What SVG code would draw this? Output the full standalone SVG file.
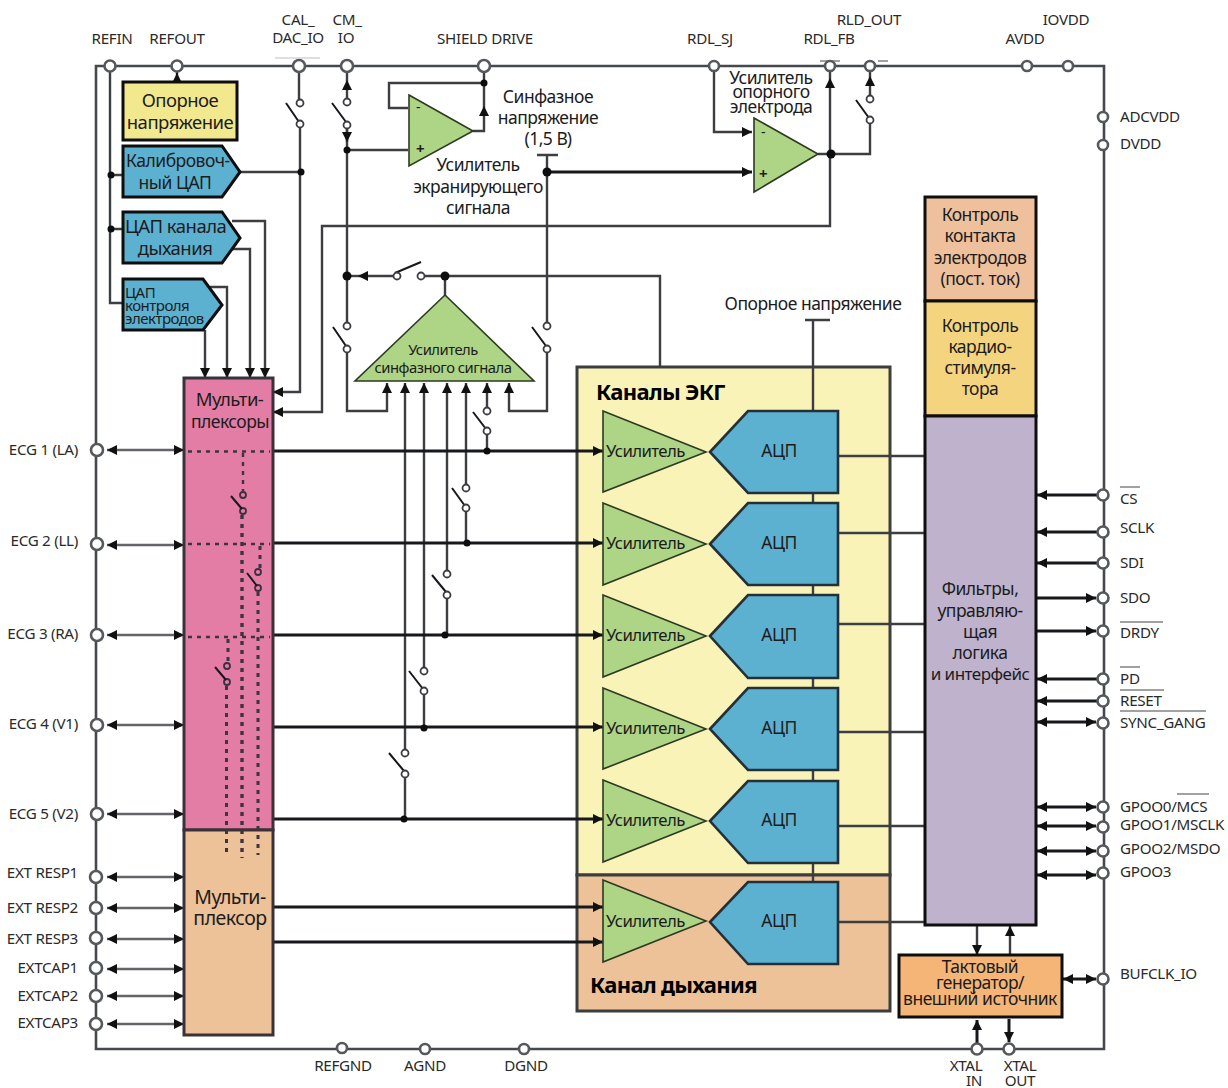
<svg xmlns="http://www.w3.org/2000/svg" width="1228" height="1088" viewBox="0 0 1228 1088">
<style>
text{font-family:"Noto Sans","Liberation Sans",sans-serif;font-size:17.5px;fill:#1c1c1c;letter-spacing:-.5px}
.m{text-anchor:middle}
.p{font-size:15.200px;fill:#2a2a2a;letter-spacing:-.3px}
.e{text-anchor:end}
.b{font-weight:700;font-size:22px;fill:#000;letter-spacing:-.7px}
.ua{font-size:16.800px;letter-spacing:-.6px}
.big{font-size:18.500px}
.bus{fill:none;stroke:#45484d;stroke-width:2.6}
.s{fill:none;stroke:#17181b;stroke-width:3}
.g{fill:none;stroke:#3c3e42;stroke-width:2.4}
.lf{fill:none;stroke:#626467;stroke-width:2.6}
.t{fill:none;stroke:#444;stroke-width:1.2}
.d{fill:none;stroke:#3e3340;stroke-width:3;stroke-dasharray:4 5}
.pin{fill:#fff;stroke:#55585c;stroke-width:2.6}
.o{fill:#fff;stroke:#3a3c40;stroke-width:1.8}
.o2{fill:none;stroke:#3a3040;stroke-width:1.8}
.dot{fill:#0d0d0d}
.amp{fill:#aed486;stroke:#2c3a22;stroke-width:1.6}
.dac{fill:#5cb1d1;stroke:#0e0e0e;stroke-width:3}
.adc{fill:#5cb1d1;stroke:#23303a;stroke-width:2.6}
.blk{stroke:#0e0e0e;stroke-width:3}
</style>
<defs>
<marker id="a" viewBox="0 0 10 10" refX="10" refY="5" markerUnits="userSpaceOnUse" markerWidth="11" markerHeight="10" orient="auto-start-reverse"><path d="M0 0L10 5L0 10Z" fill="#111"/></marker>
</defs>
<g id="ecg-channels"><rect x="577" y="367" width="313" height="508" fill="#faf3b8" stroke="#3c3d3f" stroke-width="3"/><text class="b" x="596" y="400">Каналы ЭКГ</text></g>
<g id="resp-channel"><rect x="577" y="875" width="313" height="136" fill="#edc298" stroke="#3c3d3f" stroke-width="3"/><text class="b" x="590" y="993">Канал дыхания</text></g>
<g id="connectors">
<path class="bus" d="M96 1049V66H1104V1049Z"/>
<path class="g" d="M110 66V303H123M111 175H123M111 229H123"/>
<path class="g" d="M177 66V82"/><path class="s" style="stroke-width:2" d="M177 82V73" marker-end="url(#a)"/>
<path class="g" d="M299 66V103M300 126V392H273" marker-end="url(#a)"/>
<path class="g" d="M240 172H301"/>
<path class="g" d="M830 90V226H322V412H273" marker-end="url(#a)"/>
<path class="g" d="M830 90V78" marker-end="url(#a)"/><path class="g" d="M830 78V66"/>
<path class="g" d="M232 221H265V378" marker-end="url(#a)"/>
<path class="g" d="M232 249H250V378" marker-end="url(#a)"/>
<path class="g" d="M210 287H227V378" marker-end="url(#a)"/>
<path class="g" d="M205 330V378" marker-end="url(#a)"/>
<path class="g" d="M347 102V80" marker-end="url(#a)"/><path class="g" d="M347 80V66"/>
<path class="g" d="M347 128V150"/><path class="g" d="M347 128V142" marker-end="url(#a)"/>
<path class="g" d="M347 150V325"/>
<path class="g" d="M347 351V411H387V383" marker-end="url(#a)"/>
<path class="g" d="M347 150H408"/>
<path class="g" d="M473 131H484V106" marker-end="url(#a)"/><path class="g" d="M484 106V66M484 83H389V108H408"/>
<path class="g" d="M537 155H558M547 155V326"/>
<path class="s" d="M547 172H752" marker-end="url(#a)"/>
<path class="g" d="M547 351V411H509V383" marker-end="url(#a)"/>
<path class="g" d="M714 66V132H752" marker-end="url(#a)"/>
<path class="g" d="M818 154H870V123"/>
<path class="g" d="M870 98V76" marker-end="url(#a)"/><path class="g" d="M870 76V66"/>
<path class="g" d="M397 276H358" marker-end="url(#a)"/><path class="g" d="M358 276H347"/>
<path class="g" d="M421 276H660V366M445 276V296"/>
<path class="g" d="M405 753V383" marker-end="url(#a)"/><path class="g" d="M405 776V819"/>
<path class="g" d="M424 671V383" marker-end="url(#a)"/><path class="g" d="M424 693V728"/>
<path class="g" d="M447 574V383" marker-end="url(#a)"/><path class="g" d="M447 597V635"/>
<path class="g" d="M466 488V383" marker-end="url(#a)"/><path class="g" d="M466 510V543"/>
<path class="g" d="M487 411V383" marker-end="url(#a)"/><path class="g" d="M487 433V451"/>
<path class="s" d="M273 451H603" marker-end="url(#a)"/>
<path class="s" d="M273 543H603" marker-end="url(#a)"/>
<path class="s" d="M273 635H603" marker-end="url(#a)"/>
<path class="s" d="M273 727H603" marker-end="url(#a)"/>
<path class="s" d="M273 819H603" marker-end="url(#a)"/>
<path class="s" d="M273 907H603" marker-end="url(#a)"/>
<path class="s" d="M273 942H603" marker-end="url(#a)"/>
<path class="g" d="M805 320H830M813 320V882"/>
<path class="g" d="M838 456H925M838 533H925M838 624H925M838 732H925M838 826H925M838 922H925"/>
<g class="left">
<path class="lf" d="M107 450H184" marker-start="url(#a)" marker-end="url(#a)"/>
<path class="lf" d="M107 545H184" marker-start="url(#a)" marker-end="url(#a)"/>
<path class="lf" d="M107 635H184" marker-start="url(#a)" marker-end="url(#a)"/>
<path class="lf" d="M107 725H184" marker-start="url(#a)" marker-end="url(#a)"/>
<path class="lf" d="M107 814H184" marker-start="url(#a)" marker-end="url(#a)"/>
<path class="lf" d="M107 877H184" marker-start="url(#a)" marker-end="url(#a)"/>
<path class="lf" d="M107 908H184" marker-start="url(#a)" marker-end="url(#a)"/>
<path class="lf" d="M107 939H184" marker-start="url(#a)" marker-end="url(#a)"/>
<path class="lf" d="M107 969H184" marker-start="url(#a)" marker-end="url(#a)"/>
<path class="lf" d="M107 996H184" marker-start="url(#a)" marker-end="url(#a)"/>
<path class="lf" d="M107 1024H184" marker-start="url(#a)" marker-end="url(#a)"/>
</g>
<g class="right">
<path class="s" d="M1103 495H1037" marker-end="url(#a)"/>
<path class="s" d="M1103 532H1037" marker-end="url(#a)"/>
<path class="s" d="M1103 563H1037" marker-end="url(#a)"/>
<path class="s" d="M1037 598H1096" marker-end="url(#a)"/>
<path class="s" d="M1037 631H1096" marker-end="url(#a)"/>
<path class="s" d="M1103 679H1037" marker-end="url(#a)"/>
<path class="s" d="M1103 701H1037" marker-end="url(#a)"/>
<path class="s" d="M1037 722H1096" marker-start="url(#a)" marker-end="url(#a)"/>
<path class="s" d="M1037 807H1096" marker-start="url(#a)" marker-end="url(#a)"/>
<path class="s" d="M1037 826H1096" marker-start="url(#a)" marker-end="url(#a)"/>
<path class="s" d="M1037 851H1096" marker-start="url(#a)" marker-end="url(#a)"/>
<path class="s" d="M1037 875H1096" marker-start="url(#a)" marker-end="url(#a)"/>
<path class="s" d="M1063 979H1096" marker-start="url(#a)" marker-end="url(#a)"/>
</g>
<path class="g" d="M977 925V955" marker-end="url(#a)"/>
<path class="g" d="M1010 955V926" marker-end="url(#a)"/>
<path class="s" d="M977 1049V1020" marker-end="url(#a)"/>
<path class="s" d="M1009 1019V1042" marker-end="url(#a)"/>
<g class="switches">
<path class="s" style="stroke-width:2" d="M286 103L299 122M332 103L346 122M333 327L346 346M532 327L546 346M856 100L869 118M473 412L486 429M452 488L465 506M432 575L446 592M409 671L423 689M389 753L404 771M395 273L421 262"/>
</g>
<g class="ticks"><path class="t" style="opacity:.35" d="M275 58H320"/><path class="t" d="M820 61H840M878 61H888"/></g>
</g>
<g id="vref"><rect x="123" y="82" width="114" height="58" fill="#f2e88e" class="blk"/><text class="m big" x="180" y="107">Опорное</text><text class="m big" x="180" y="129">напряжение</text></g>
<g id="cal-dac"><path class="dac" d="M123 146H222L240 172L222 197H123Z"/><text x="126" y="167">Калибровоч-</text><text class="m" x="175" y="189">ный ЦАП</text></g>
<g id="resp-dac"><path class="dac" d="M123 212H222L240 238L222 263H123Z"/><text x="125" y="233" class="big">ЦАП канала</text><text class="m big" x="175" y="255">дыхания</text></g>
<g id="lead-dac"><path class="dac" d="M123 279H203L222 305L203 330H123Z"/><text x="125" y="298" style="font-size:15px">ЦАП</text><text x="125" y="311" style="font-size:15px">контроля</text><text x="125" y="324" style="font-size:15px">электродов</text></g>
<g id="mux-ecg"><rect x="184" y="378" width="89" height="452" fill="#e37da6" stroke="#3a3238" stroke-width="3"/><text class="m big" x="229.500" y="406">Мульти-</text><text class="m" x="230" y="428">плексоры</text></g>
<g id="mux-resp"><rect x="184" y="830" width="89" height="205" fill="#edc298" stroke="#3a3238" stroke-width="3"/><text class="m" style="font-size:19.500px" x="230" y="904">Мульти-</text><text class="m" style="font-size:19.500px" x="230" y="925">плексор</text></g>
<g id="mux-paths">
<path class="d" d="M188 451.500H270M188 544H270M188 637H270" style="stroke-width:2.400"/>
<path class="d" d="M243 453V491" style="stroke-width:2.400"/><path class="d" d="M242 515V858" style="stroke-width:3.400"/><path class="d" d="M260 546V569M258 592V855M228 639V663M226.500 686V857"/>
<circle class="o2" cx="243" cy="495" r="3"/><circle class="o2" cx="243" cy="511" r="3"/><circle class="o2" cx="258" cy="572" r="3"/><circle class="o2" cx="258" cy="588" r="3"/><circle class="o2" cx="227" cy="666" r="3"/><circle class="o2" cx="227" cy="682" r="3"/>
<path class="s" style="stroke-width:2" d="M231 496L242 509M247 573L257 586M215 667L226 680"/>
</g>
<g id="shield-amp"><path class="amp" d="M409 95L473 131L409 166Z"/><text class="m" x="418" y="112" style="font-size:14px">-</text><text class="m" x="420" y="154" style="font-size:15px;font-weight:700">+</text><text class="m" x="478" y="171">Усилитель</text><text class="m" x="478" y="193">экранирующего</text><text class="m" x="478" y="214">сигнала</text></g>
<g id="rld-amp"><path class="amp" d="M754 118L818 154L754 192Z"/><text class="m" x="763" y="137" style="font-size:14px">-</text><text class="m" x="763" y="179" style="font-size:15px;font-weight:700">+</text><text class="m" x="771" y="84">Усилитель</text><text class="m" x="771" y="98">опорного</text><text class="m" x="771" y="113">электрода</text></g>
<g id="cm-amp"><path class="amp" d="M445 295L534 381H355Z"/><text class="m" x="443" y="355" style="font-size:14.800px">Усилитель</text><text class="m" x="443" y="373" style="font-size:14.800px">синфазного сигнала</text></g>
<g id="labels-misc"><text class="m" x="548" y="103">Синфазное</text><text class="m" x="548" y="124">напряжение</text><text class="m" x="548" y="145">(1,5 В)</text><text class="m" x="813" y="310">Опорное напряжение</text></g>
<g id="amp1"><path class="amp" d="M603 411L706 452L603 492Z"/><text class="ua" x="606" y="457">Усилитель</text></g>
<g id="amp2"><path class="amp" d="M603 503L706 544L603 585Z"/><text class="ua" x="606" y="549">Усилитель</text></g>
<g id="amp3"><path class="amp" d="M603 595L706 636L603 677Z"/><text class="ua" x="606" y="641">Усилитель</text></g>
<g id="amp4"><path class="amp" d="M603 688L706 729L603 769Z"/><text class="ua" x="606" y="734">Усилитель</text></g>
<g id="amp5"><path class="amp" d="M603 780L706 821L603 862Z"/><text class="ua" x="606" y="826">Усилитель</text></g>
<g id="amp6"><path class="amp" d="M603 880L706 921L603 962Z"/><text class="ua" x="606" y="927">Усилитель</text></g>
<g id="adc1"><path class="adc" d="M710 452L748 411H838V493H748Z"/><text class="m" x="779" y="457">АЦП</text></g>
<g id="adc2"><path class="adc" d="M710 544L748 503H838V585H748Z"/><text class="m" x="779" y="549">АЦП</text></g>
<g id="adc3"><path class="adc" d="M710 636L748 595H838V678H748Z"/><text class="m" x="779" y="641">АЦП</text></g>
<g id="adc4"><path class="adc" d="M710 729L748 688H838V770H748Z"/><text class="m" x="779" y="734">АЦП</text></g>
<g id="adc5"><path class="adc" d="M710 821L748 781H838V863H748Z"/><text class="m" x="779" y="826">АЦП</text></g>
<g id="adc6"><path class="adc" d="M710 922L748 882H838V964H748Z"/><text class="m" x="779" y="927">АЦП</text></g>
<g id="dc-leadoff"><rect x="925" y="197" width="111" height="104" fill="#efc09c" class="blk"/><text class="m" x="980" y="221">Контроль</text><text class="m" x="980" y="242">контакта</text><text class="m" x="980" y="264">электродов</text><text class="m" x="980" y="285">(пост. ток)</text></g>
<g id="pace"><rect x="925" y="301" width="111" height="115" fill="#f5d47f" class="blk"/><text class="m" x="980" y="332">Контроль</text><text class="m" x="980" y="353">кардио-</text><text class="m" x="980" y="374">стимуля-</text><text class="m" x="980" y="395">тора</text></g>
<g id="logic"><rect x="925" y="416" width="111" height="509" fill="#bfb2cc" class="blk"/><text class="m" x="980" y="595">Фильтры,</text><text class="m" x="980" y="617">управляю-</text><text class="m" x="980" y="638">щая</text><text class="m" x="980" y="659">логика</text><text class="m" x="980" y="680" style="font-size:17px">и интерфейс</text></g>
<g id="clock"><rect x="899" y="955" width="163" height="62" fill="#f4b576" class="blk"/><text class="m" x="980" y="973">Тактовый</text><text class="m" x="980" y="989">генератор/</text><text class="m" x="980" y="1005">внешний источник</text></g>
<g id="junctions" class="dot">
<circle cx="111" cy="175" r="3.500"/><circle cx="111" cy="229" r="3.500"/><circle cx="301" cy="172" r="3.500"/><circle cx="347" cy="150" r="3.500"/><circle cx="347" cy="276" r="4.500"/><circle cx="445" cy="276" r="4.500"/><circle cx="484" cy="83" r="3.500"/><circle cx="547" cy="172" r="4.500"/><circle cx="831" cy="154" r="4.500"/><circle cx="487" cy="451" r="3.500"/><circle cx="467" cy="543" r="3.500"/><circle cx="445" cy="635" r="3.500"/><circle cx="424" cy="728" r="3.500"/><circle cx="404" cy="819" r="3.500"/>
</g>
<g id="switch-contacts">
<circle class="o" cx="300" cy="103" r="3.500"/><circle class="o" cx="300" cy="124" r="3.500"/><circle class="o" cx="347" cy="102" r="3.500"/><circle class="o" cx="347" cy="125" r="3.500"/><circle class="o" cx="347" cy="326" r="3.500"/><circle class="o" cx="347" cy="349" r="3.500"/><circle class="o" cx="547" cy="326" r="3.500"/><circle class="o" cx="547" cy="349" r="3.500"/><circle class="o" cx="870" cy="99" r="3.500"/><circle class="o" cx="870" cy="120" r="3.500"/><circle class="o" cx="397" cy="276" r="3.500"/><circle class="o" cx="421" cy="276" r="3.500"/><circle class="o" cx="487" cy="411" r="3.500"/><circle class="o" cx="487" cy="431" r="3.500"/><circle class="o" cx="466" cy="488" r="3.500"/><circle class="o" cx="466" cy="508" r="3.500"/><circle class="o" cx="447" cy="574" r="3.500"/><circle class="o" cx="447" cy="595" r="3.500"/><circle class="o" cx="424" cy="671" r="3.500"/><circle class="o" cx="424" cy="691" r="3.500"/><circle class="o" cx="405" cy="753" r="3.500"/><circle class="o" cx="405" cy="774" r="3.500"/>
</g>
<g id="pins">
<circle class="pin" cx="110" cy="66" r="5.500"/><circle class="pin" cx="177" cy="66" r="5.500"/><circle class="pin" cx="299" cy="66" r="6"/><circle class="pin" cx="347" cy="66" r="6"/><circle class="pin" cx="484" cy="66" r="6"/><circle class="pin" cx="714" cy="66" r="5"/><circle class="pin" cx="830" cy="66" r="5"/><circle class="pin" cx="870" cy="66" r="5"/><circle class="pin" cx="1027" cy="66" r="5"/><circle class="pin" cx="1068" cy="66" r="5"/>
<circle class="pin" cx="1103" cy="117" r="5"/><circle class="pin" cx="1103" cy="145" r="5"/><circle class="pin" cx="1103" cy="495" r="5.500"/><circle class="pin" cx="1103" cy="532" r="5.500"/><circle class="pin" cx="1103" cy="563" r="5.500"/><circle class="pin" cx="1103" cy="598" r="5.500"/><circle class="pin" cx="1103" cy="631" r="5.500"/><circle class="pin" cx="1103" cy="679" r="5.500"/><circle class="pin" cx="1103" cy="701" r="5.500"/><circle class="pin" cx="1103" cy="723" r="5.500"/><circle class="pin" cx="1103" cy="807" r="5.500"/><circle class="pin" cx="1103" cy="827" r="5.500"/><circle class="pin" cx="1103" cy="851" r="5.500"/><circle class="pin" cx="1103" cy="873" r="5.500"/><circle class="pin" cx="1103" cy="979" r="5.500"/>
<circle class="pin" cx="97" cy="450" r="6"/><circle class="pin" cx="97" cy="544" r="6"/><circle class="pin" cx="97" cy="635" r="6"/><circle class="pin" cx="97" cy="725" r="6"/><circle class="pin" cx="97" cy="814" r="6"/><circle class="pin" cx="96" cy="877" r="6"/><circle class="pin" cx="96" cy="908" r="6"/><circle class="pin" cx="96" cy="938" r="6"/><circle class="pin" cx="96" cy="968" r="6"/><circle class="pin" cx="96" cy="996" r="6"/><circle class="pin" cx="96" cy="1024" r="6"/>
<circle class="pin" cx="342" cy="1048" r="5"/><circle class="pin" cx="425" cy="1049" r="5"/><circle class="pin" cx="524" cy="1049" r="5"/><circle class="pin" cx="977" cy="1049" r="5.500"/><circle class="pin" cx="1009" cy="1049" r="5.500"/>
</g>
<g id="pin-labels">
<text class="p m" x="112" y="44">REFIN</text><text class="p m" x="177" y="44">REFOUT</text><text class="p m" x="298" y="25">CAL_</text><text class="p m" x="298" y="43">DAC_IO</text><text class="p m" x="347" y="25">CM_</text><text class="p m" x="346" y="43">IO</text><text class="p m" x="485" y="44">SHIELD DRIVE</text><text class="p m" x="710" y="44">RDL_SJ</text><text class="p m" x="829" y="44">RDL_FB</text><text class="p m" x="869" y="25">RLD_OUT</text><text class="p m" x="1025" y="44">AVDD</text><text class="p m" x="1066" y="25">IOVDD</text>
<text class="p" x="1120" y="122">ADCVDD</text><text class="p" x="1120" y="149">DVDD</text><text class="p" x="1120" y="504">CS</text><text class="p" x="1120" y="533">SCLK</text><text class="p" x="1120" y="568">SDI</text><text class="p" x="1120" y="603">SDO</text><text class="p" x="1120" y="638">DRDY</text><text class="p" x="1120" y="684">PD</text><text class="p" x="1120" y="706">RESET</text><text class="p" x="1120" y="728">SYNC_GANG</text><text class="p" x="1120" y="812">GPOO0/MCS</text><text class="p" x="1120" y="830">GPOO1/MSCLK</text><text class="p" x="1120" y="854">GPOO2/MSDO</text><text class="p" x="1120" y="877">GPOO3</text><text class="p" x="1120" y="979">BUFCLK_IO</text>
<path class="t" d="M1120 487H1140M1120 622H1163M1120 667H1140M1120 690H1164M1120 711H1206M1177 794H1209"/>
<text class="p e" x="78" y="455">ECG 1 (LA)</text><text class="p e" x="78" y="546">ECG 2 (LL)</text><text class="p e" x="78" y="639">ECG 3 (RA)</text><text class="p e" x="78" y="729">ECG 4 (V1)</text><text class="p e" x="78" y="819">ECG 5 (V2)</text><text class="p e" x="78" y="878">EXT RESP1</text><text class="p e" x="78" y="913">EXT RESP2</text><text class="p e" x="78" y="944">EXT RESP3</text><text class="p e" x="78" y="973">EXTCAP1</text><text class="p e" x="78" y="1001">EXTCAP2</text><text class="p e" x="78" y="1028">EXTCAP3</text>
<text class="p m" x="343" y="1071">REFGND</text><text class="p m" x="425" y="1071">AGND</text><text class="p m" x="526" y="1071">DGND</text><text class="p m" x="966" y="1071">XTAL</text><text class="p m" x="974" y="1086">IN</text><text class="p m" x="1020" y="1071">XTAL</text><text class="p m" x="1020" y="1086">OUT</text>
</g>
</svg>
